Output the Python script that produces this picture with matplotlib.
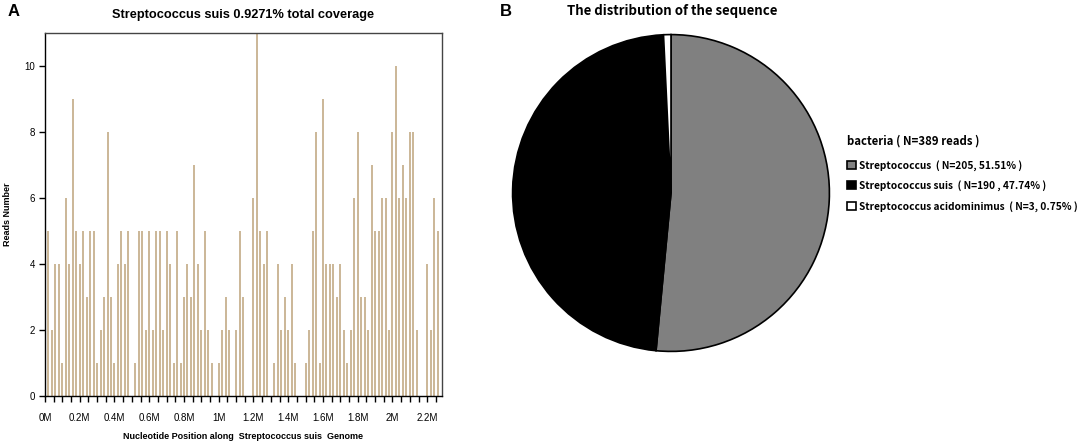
import numpy as np
import matplotlib
matplotlib.use('Agg')
import matplotlib.pyplot as plt
from matplotlib.ticker import MultipleLocator, FuncFormatter

# coverage reads per 20 kb bin (first bin centred at 0.02M)
bin_size = 20000
reads = [5, 2, 4, 4, 1, 6, 4, 9, 5, 4, 5, 3, 5, 5, 1, 2, 3, 8, 3, 1,
         4, 5, 4, 5, 0, 1, 5, 5, 2, 5, 2, 5, 5, 2, 5, 4, 1, 5, 1, 3,
         4, 3, 7, 4, 2, 5, 2, 1, 0, 1, 2, 3, 2, 0, 2, 5, 3, 0, 0, 6,
         11, 5, 4, 5, 0, 1, 4, 2, 3, 2, 4, 1, 0, 0, 1, 2, 5, 8, 1, 9,
         4, 4, 4, 3, 4, 2, 1, 2, 6, 8, 3, 3, 2, 7, 5, 5, 6, 6, 2, 8,
         10, 6, 7, 6, 8, 8, 2, 0, 0, 4, 2, 6, 5]
positions = [(i + 1) * bin_size for i in range(len(reads))]

species = ['Streptococcus', 'Streptococcus suis', 'Streptococcus acidominimus']
counts = [205, 190, 3]
percents = ['51.51%', '47.74%', '0.75%']
total_label = 'bacteria ( N=389 reads )'
pie_colors = ['#808080', '#000000', '#ffffff']

cjk = ['Noto Sans CJK SC', 'DejaVu Sans']
plt.rcParams['font.family'] = ['Liberation Sans', 'DejaVu Sans']

fig = plt.figure(figsize=(10.84, 4.43), dpi=100)

# ---- panel A: coverage ----
ax = fig.add_axes([45/1084, 1 - 396/443, 397/1084, 363/443])
ax.vlines(positions, 0, reads, color='#c2aa85', linewidth=1.2)
ax.set_xlim(0, 2.285e6)
ax.set_ylim(0, 11)
ax.xaxis.set_major_locator(MultipleLocator(200000))
ax.xaxis.set_minor_locator(MultipleLocator(50000))
ax.xaxis.set_major_formatter(FuncFormatter(lambda v, p: f'{v/1e6:g}M'))
ax.set_yticks(range(0, 11, 2))
ax.tick_params(axis='both', which='major', labelsize=7, length=4, width=1, pad=3)
ax.tick_params(axis='x', which='minor', length=4, width=1)
ax.tick_params(axis='x', pad=8)
for s in ax.spines.values():
    s.set_color('#444444')
    s.set_linewidth(1)
ax.spines['bottom'].set_color('black')
ax.spines['left'].set_color('black')
ax.set_title('Streptococcus suis 0.9271% total coverage', fontsize=9.2,
             fontweight='bold', pad=11)
ax.set_xlabel('Nucleotide Position along  Streptococcus suis  Genome',
              fontsize=6.5, fontweight='bold', labelpad=7)
ax.set_ylabel('Reads Number', fontsize=6.5, fontweight='bold', labelpad=9)
fig.text(8/1084, 1 - 12/443, 'A', fontsize=12, fontweight='bold', va='center')

# ---- panel B: pie ----
pax = fig.add_axes([511/1084, 1 - 353/443, 320/1084, 320/443])
wedges, _ = pax.pie(counts, colors=pie_colors, startangle=90, counterclock=False,
                    wedgeprops=dict(edgecolor='black', linewidth=1.2))
pax.set_xlim(-1.01, 1.01)
pax.set_ylim(-1.01, 1.01)
pax.set_aspect('equal')
fig.text(672/1084, 1 - 11/443, 'The distribution of the sequence', family=cjk,
         fontsize=9.5, fontweight='bold', ha='center', va='center')
fig.text(500/1084, 1 - 12/443, 'B', fontsize=12, fontweight='bold', va='center')

labels = [f'{s}  ( N={c}, {p} )' for s, c, p in zip(species, counts, percents)]
labels[1] = f'{species[1]}  ( N={counts[1]} , {percents[1]} )'
leg = fig.legend(wedges, labels, title=total_label, loc='upper left',
                 bbox_to_anchor=(843/1084, 1 - 130/443), frameon=False,
                 prop={'family': cjk, 'size': 7.3, 'weight': 'bold'},
                 title_fontproperties={'family': cjk, 'size': 8.2, 'weight': 'bold'},
                 alignment='left', handlelength=0.85, handleheight=0.85,
                 handletextpad=0.35, labelspacing=0.95, borderaxespad=0)
leg._legend_box.sep = 9

fig.savefig('out.png', dpi=100)
